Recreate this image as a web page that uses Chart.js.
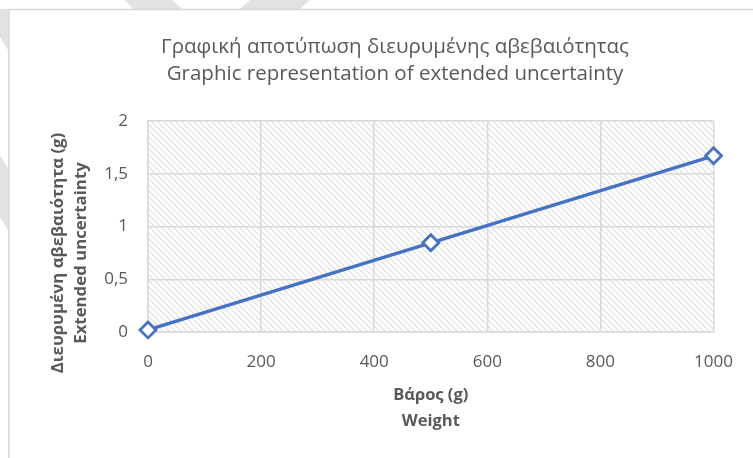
<!DOCTYPE html>
<html>
<head>
<meta charset="utf-8">
<script src="https://cdn.jsdelivr.net/npm/chart.js@4.4.1/dist/chart.umd.min.js"></script>
<style>
	html, body { margin: 0; padding: 0; background: #ffffff; }
	canvas { display: block; }
</style>
</head>
<body>
<canvas id="chart" width="753" height="458"></canvas>
<script>
( function () {
	'use strict';

	// data
	var weights = [ 0, 500, 1000 ];
	var uncertainty = [ 0.02, 0.845, 1.67 ];
	var yTickValues = [ 0, 0.5, 1, 1.5, 2 ];
	var yTickLabels = [ '0', '0,5', '1', '1,5', '2' ];
	var xTickLabels = [ '0', '200', '400', '600', '800', '1000' ];
	var titleLines = [ 'Γραφική αποτύπωση διευρυμένης αβεβαιότητας', 'Graphic representation of extended uncertainty' ];
	var xTitleLines = [ 'Βάρος (g)', 'Weight' ];
	var yTitleLines = [ 'Διευρυμένη αβεβαιότητα (g)', 'Extended uncertainty' ];

	var textColor = '#595959';
	var gridColor = '#d9d9d9';
	var lineColor = '#4472c4';
	var fontFamily = '"Open Sans", "Noto Sans", sans-serif';

	function makeHatch() {
		var tile = document.createElement( 'canvas' );
		tile.width = 6;
		tile.height = 6;
		var c = tile.getContext( '2d' );
		c.strokeStyle = '#dedede';
		c.lineWidth = 1.1;
		c.beginPath();
		c.moveTo( -1, -1 );
		c.lineTo( 7, 7 );
		c.moveTo( -1, 5 );
		c.lineTo( 1, 7 );
		c.moveTo( 5, -1 );
		c.lineTo( 7, 1 );
		c.stroke();
		return c.createPattern( tile, 'repeat' );
	}

	var backdrop = {
		id: 'backdrop',
		beforeDraw: function ( chart ) {
			var ctx = chart.ctx;
			var area = chart.chartArea;
			ctx.save();
			ctx.fillStyle = '#ffffff';
			ctx.fillRect( 0, 0, chart.width, chart.height );

			// faint watermark shapes behind the sheet
			ctx.fillStyle = '#e2e2e2';
			[
				[ [ 125, 0 ], [ 172, 0 ], [ 182, 9 ], [ 133, 9 ] ],
				[ [ 250, 0 ], [ 310, 0 ], [ 300, 9 ], [ 240, 9 ] ],
				[ [ 0, 9 ], [ 8, 9 ], [ 8, 50 ], [ 0, 37 ] ],
				[ [ 0, 155 ], [ 8, 168 ], [ 8, 230 ], [ 0, 217 ] ],
			].forEach( function ( poly ) {
				ctx.beginPath();
				ctx.moveTo( poly[ 0 ][ 0 ], poly[ 0 ][ 1 ] );
				for ( var i = 1; i < poly.length; i++ ) {
					ctx.lineTo( poly[ i ][ 0 ], poly[ i ][ 1 ] );
				}
				ctx.closePath();
				ctx.fill();
			} );

			// sheet border
			ctx.strokeStyle = '#d6d6d6';
			ctx.lineWidth = 1.5;
			ctx.beginPath();
			ctx.moveTo( 9, chart.height );
			ctx.lineTo( 9, 9.5 );
			ctx.lineTo( chart.width, 9.5 );
			ctx.stroke();

			// hatched plot area
			ctx.fillStyle = makeHatch();
			ctx.fillRect( area.left, area.top, area.right - area.left, area.bottom - area.top );
			ctx.restore();
		},
	};

	// y title sits lower than the axis middle in the original, so it is drawn here
	var yTitle = {
		id: 'yTitle',
		afterDraw: function ( chart ) {
			var ctx = chart.ctx;
			ctx.save();
			ctx.translate( 58, 253 );
			ctx.rotate( -Math.PI / 2 );
			ctx.fillStyle = textColor;
			ctx.font = 'bold 16.8px ' + fontFamily;
			ctx.textAlign = 'center';
			ctx.textBaseline = 'middle';
			ctx.fillText( yTitleLines[ 0 ], 0, 0 );
			ctx.fillText( yTitleLines[ 1 ], 0, 23 );
			ctx.restore();
		},
	};

	new Chart( document.getElementById( 'chart' ), {
		type: 'line',
		data: {
			datasets: [
				{
					data: weights.map( function ( w, i ) {
						return { x: w, y: uncertainty[ i ] };
					} ),
					borderColor: lineColor,
					borderWidth: 3.3,
					backgroundColor: '#ffffff',
					pointStyle: 'rectRot',
					pointRadius: 8,
					pointBorderWidth: 2.8,
					pointBackgroundColor: '#ffffff',
					pointBorderColor: lineColor,
					tension: 0,
					fill: false,
					clip: false,
				},
			],
		},
		options: {
			responsive: false,
			devicePixelRatio: 1,
			animation: false,
			layout: {
				// left padding keeps the title centred where the original puts it
				padding: { left: 74, right: 37, top: 0, bottom: 0 },
			},
			plugins: {
				legend: { display: false },
				tooltip: { enabled: false },
				title: {
					display: true,
					text: titleLines,
					color: textColor,
					font: { family: fontFamily, size: 20.5, weight: 'normal', lineHeight: '27px' },
					padding: { top: 34, bottom: 33 },
				},
			},
			scales: {
				x: {
					type: 'linear',
					min: 0,
					max: 1000,
					afterFit: function ( scale ) {
						scale.height = 126;
					},
					afterBuildTicks: function ( scale ) {
						scale.ticks = xTickLabels.map( function ( t ) {
							return { value: Number( t ) };
						} );
					},
					grid: {
						color: gridColor,
						lineWidth: 1.5,
						drawTicks: false,
					},
					border: { color: gridColor, width: 1.5 },
					ticks: {
						color: textColor,
						font: { family: fontFamily, size: 17 },
						padding: 20,
						maxRotation: 0,
						callback: function ( value, index ) {
							return xTickLabels[ index ];
						},
					},
					title: {
						display: true,
						text: xTitleLines,
						color: textColor,
						font: { family: fontFamily, size: 16.5, weight: 'bold', lineHeight: '26px' },
						padding: { top: 0, bottom: 24 },
					},
				},
				y: {
					min: 0,
					max: 2,
					afterFit: function ( scale ) {
						scale.width = 74;
					},
					afterBuildTicks: function ( scale ) {
						scale.ticks = yTickValues.map( function ( v ) {
							return { value: v };
						} );
					},
					grid: {
						color: gridColor,
						lineWidth: 1.5,
						drawTicks: false,
					},
					border: { color: gridColor, width: 1.5 },
					ticks: {
						color: textColor,
						font: { family: fontFamily, size: 17 },
						padding: 20,
						callback: function ( value, index ) {
							return yTickLabels[ index ];
						},
					},
					title: { display: false },
				},
			},
		},
		plugins: [ backdrop, yTitle ],
	} );
} )();
</script>
</body>
</html>
